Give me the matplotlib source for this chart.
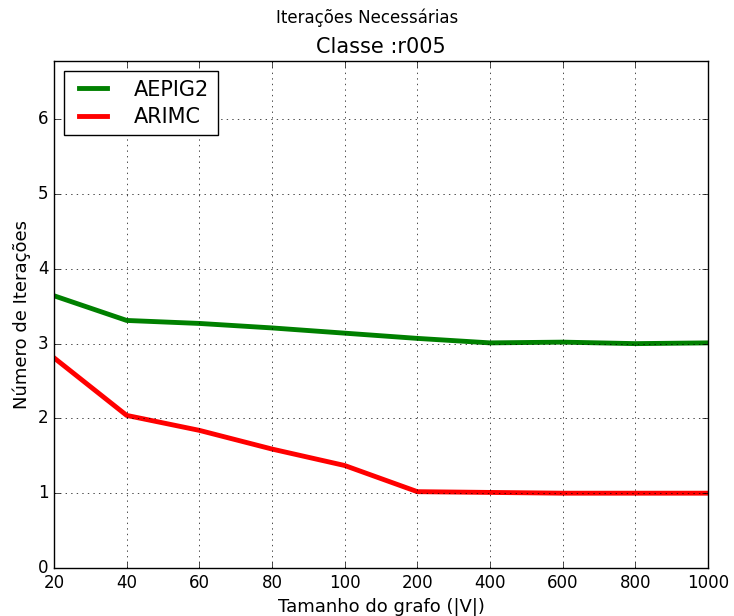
import matplotlib
matplotlib.use("Agg")
import matplotlib.pyplot as plt

# dados
tamanhos = ["20", "40", "60", "80", "100", "200", "400", "600", "800", "1000"]
aepig2 = [3.64, 3.31, 3.27, 3.21, 3.14, 3.07, 3.01, 3.02, 3.00, 3.01]
arimc = [2.81, 2.04, 1.84, 1.59, 1.37, 1.02, 1.01, 1.00, 1.00, 1.00]

plt.style.use("classic")
plt.rcParams["font.family"] = "DejaVu Sans"

fig = plt.figure(figsize=(7.34, 6.16), dpi=100, facecolor="white")
ax = fig.add_axes([0.0736, 0.078, 0.891, 0.823])

pos = range(len(tamanhos))
ax.plot(pos, aepig2, color="green", linewidth=3.5, label="AEPIG2")
ax.plot(pos, arimc, color="red", linewidth=3.5, label="ARIMC")

ax.set_xlim(0, len(tamanhos) - 1)
ax.set_ylim(0, 6.78)
ax.set_xticks(list(pos))
ax.set_xticklabels(tamanhos)
ax.set_yticks(range(0, 7))
ax.grid(True)
ax.tick_params(labelsize=12)

ax.set_xlabel("Tamanho do grafo (|V|)", fontsize=13)
ax.set_ylabel("Número de Iterações", fontsize=13)
ax.set_title("Classe :r005", fontsize=15, pad=6)
fig.suptitle("Iterações Necessárias", fontsize=12, y=0.971, va="center")

ax.legend(loc="upper left", fontsize=15, fancybox=False, handlelength=1.95,
          handletextpad=1.0, labelspacing=0.35)

fig.savefig("out.png", dpi=100, facecolor="white")
